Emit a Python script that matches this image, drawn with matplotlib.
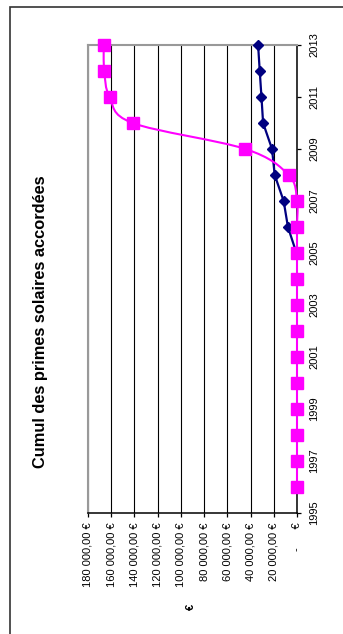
import matplotlib.pyplot as plt
from matplotlib.path import Path
from matplotlib.patches import PathPatch, Rectangle

plt.rcParams['font.family'] = ['Liberation Sans', 'DejaVu Sans']

# Données
annees_rose = [1996, 1997, 1998, 1999, 2000, 2001, 2002, 2003, 2004,
               2005, 2006, 2007, 2008, 2009, 2010, 2011, 2012, 2013]
primes_rose = [0, 0, 0, 0, 0, 0, 0, 0, 0,
               0, 0, 0, 7200, 44400, 141600, 161400, 166000, 166500]
annees_bleu = [2005, 2006, 2007, 2008, 2009, 2010, 2011, 2012, 2013]
primes_bleu = [500, 7800, 11500, 19200, 21500, 29200, 30600, 32100, 33500]
graduations = [0, 20000, 40000, 60000, 80000, 100000, 120000, 140000, 160000, 180000]
annees_ticks = list(range(1995, 2014, 2))
titre = 'Cumul des primes solaires accordées'


def euro(v):
    if v == 0:
        return '-      €'
    return f'{v:,.2f}'.replace(',', ' ').replace('.', ',') + ' €'


def courbe_lissee(xs, ys):
    # lissage type Excel (Bézier / Catmull-Rom)
    pts = list(zip(xs, ys))
    verts = [pts[0]]
    codes = [Path.MOVETO]
    n = len(pts)
    for i in range(n - 1):
        p0 = pts[max(i - 1, 0)]
        p1 = pts[i]
        p2 = pts[i + 1]
        p3 = pts[min(i + 2, n - 1)]
        c1 = (p1[0] + (p2[0] - p0[0]) / 6, p1[1] + (p2[1] - p0[1]) / 6)
        c2 = (p2[0] - (p3[0] - p1[0]) / 6, p2[1] - (p3[1] - p1[1]) / 6)
        verts += [c1, c2, p2]
        codes += [Path.CURVE4] * 3
    return Path(verts, codes)


fig = plt.figure(figsize=(3.43, 6.34), dpi=100)
W, H = 343, 634
ax = fig.add_axes([88 / W, 1 - 513 / H, (297 - 88) / W, (513 - 45) / H])

# cadre du graphique
fig.patches.append(Rectangle((10 / W, -0.05), 1.2, 1 - 6.5 / H + 0.05,
                             transform=fig.transFigure, fill=False,
                             edgecolor='#333333', linewidth=1.2))

ax.set_xlim(180000, 0)
ax.set_ylim(1995, 2013)

# série bleue
ax.plot(primes_bleu, annees_bleu, color='#000080', linewidth=1.6,
        marker='D', markersize=5.6, clip_on=False, zorder=3)

# série rose (lissée)
ax.add_patch(PathPatch(courbe_lissee(primes_rose, annees_rose), fill=False,
                       edgecolor='#FF00FF', linewidth=1.5, clip_on=False, zorder=4))
ax.plot(primes_rose, annees_rose, linestyle='none', marker='s', markersize=8.8,
        color='#FF00FF', clip_on=False, zorder=5)

ax.set_xticks(graduations)
ax.set_xticklabels([euro(v) for v in graduations], rotation=90, fontsize=8)
ax.xaxis.grid(True, color='black', linewidth=0.8)
ax.set_axisbelow(True)

ax.yaxis.tick_right()
ax.set_yticks(annees_ticks)
ax.set_yticklabels([str(a) for a in annees_ticks], rotation=90, fontsize=8,
                   va='center')
ax.tick_params(axis='both', direction='out', length=3, width=0.9, color='black')
ax.tick_params(axis='x', pad=4)
ax.tick_params(axis='y', pad=6)

for s in ['top', 'left']:
    ax.spines[s].set_color('#999999')
    ax.spines[s].set_linewidth(1.5)
for s in ['bottom', 'right']:
    ax.spines[s].set_color('black')
    ax.spines[s].set_linewidth(1.1)

fig.text(40.5 / W, 1 - 322 / H, titre, rotation=90, ha='center', va='center',
         fontsize=11.8, fontweight='bold')
fig.text(191 / W, 1 - 607 / H, '€', rotation=90, ha='center', va='center',
         fontsize=8, fontweight='bold')

fig.savefig('out.png', dpi=100)
